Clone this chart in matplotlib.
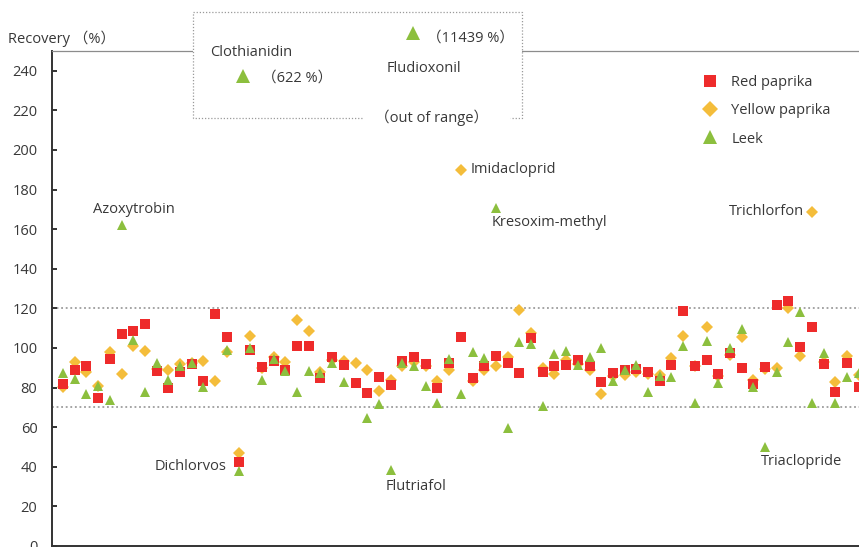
import matplotlib.pyplot as plt
from matplotlib.lines import Line2D
from matplotlib.patches import Rectangle

plt.rcParams['font.family'] = ['Open Sans', 'Noto Sans CJK JP', 'DejaVu Sans']
plt.rcParams['font.size'] = 10.5
plt.rcParams['text.color'] = '#383838'

# recovery (%) per pesticide, in the same compound order for each matrix
red_paprika = [81.7, 88.9, 90.9, 74.9, 94.4, 107.0, 108.6, 112.0, 88.4, 80.0,
               88.0, 91.8, 83.5, 117.2, 105.7, 42.6, 99.0, 90.6, 93.4, 88.9,
               101.0, 101.0, 85.0, 95.3, 91.4, 82.5, 77.1, 85.2, 81.3, 93.6,
               95.6, 91.8, 80.0, 92.6, 105.4, 85.0, 90.9, 96.0, 92.3, 87.5,
               104.9, 88.0, 90.9, 91.4, 93.9, 90.9, 82.7, 87.2, 88.9, 89.4,
               87.7, 83.5, 91.4, 118.7, 90.9, 93.9, 86.9, 97.6, 90.0, 81.7,
               90.6, 121.7, 123.9, 100.7, 110.4, 91.9, 77.9, 92.3, 80.5]
yellow_paprika = [80.5, 93.0, 87.7, 81.0, 98.1, 86.7, 101.2, 98.6, 89.4, 88.9,
                  91.9, 92.5, 93.4, 83.5, 98.1, 46.8, 106.0, 90.0, 95.6, 93.0,
                  114.1, 108.6, 87.7, 94.0, 93.6, 92.6, 88.9, 78.4, 83.8, 90.9,
                  93.0, 91.0, 83.3, 88.9, 189.9, 83.3, 88.9, 90.9, 95.6, 119.2,
                  107.4, 89.7, 86.9, 93.9, 92.0, 89.0, 76.8, 85.6, 86.4, 88.0,
                  87.0, 86.4, 95.1, 106.2, 91.0, 110.8, 86.0, 96.5, 105.7, 83.8,
                  89.4, 89.7, 120.4, 96.0, 168.7, 93.0, 82.7, 96.0, 86.4]
leek = [87.2, 84.2, 76.8, 81.0, 73.7, 162.0, 104.0, 77.9, 92.6, 83.8,
        90.9, 92.3, 80.5, 622.0, 99.0, 38.0, 99.8, 83.8, 94.4, 88.4,
        77.9, 88.4, 87.2, 92.6, 83.0, 11439.0, 64.5, 71.7, 38.4, 92.6,
        90.9, 81.0, 72.1, 94.4, 76.6, 97.8, 94.8, 170.7, 59.6, 103.2,
        101.9, 70.7, 97.0, 98.5, 91.4, 95.6, 99.8, 83.3, 88.9, 91.4,
        77.9, 85.9, 85.5, 101.0, 72.4, 103.5, 82.5, 100.2, 109.4, 80.5,
        50.0, 87.7, 103.2, 118.0, 72.1, 97.6, 72.1, 85.2, 87.2]

# compounds called out by name: (name, index, series, offset in px, alignment)
callouts = [("Azoxytrobin", 5, "leek", (-29, 16), "left"),
            ("Dichlorvos", 15, "red", (-12, -5), "right"),
            ("Flutriafol", 28, "leek", (-5, -17), "left"),
            ("Imidacloprid", 34, "yellow", (10, 0), "left"),
            ("Kresoxim-methyl", 37, "leek", (-4, -15), "left"),
            ("Trichlorfon", 64, "yellow", (-8, 0), "right"),
            ("Triaclopride", 60, "leek", (-4, -15), "left")]

c_red = '#ee2b2b'
c_yellow = '#f4bd3b'
c_green = '#8cbf3e'
W, H = 859, 547

fig = plt.figure(figsize=(W / 100, H / 100), dpi=100)
ax = fig.add_axes([52 / W, (H - 545.9) / H, (870 - 52) / W, (545.9 - 50.9) / H])

x = list(range(len(red_paprika)))
ax.plot(x, yellow_paprika, 'D', color=c_yellow, ms=6.2, mew=0, zorder=3)
ax.plot(x, red_paprika, 's', color=c_red, ms=7.5, mew=0, zorder=4)
ax.plot(x, leek, '^', color=c_green, ms=7.6, mew=0, zorder=5)

# acceptable recovery range 70-120 %
for lim in (70, 120):
    ax.axhline(lim, color='#8c8c8c', lw=1.1, ls=(0, (1.2, 1.8)), zorder=1)

series = {"red": red_paprika, "yellow": yellow_paprika, "leek": leek}
for name, i, s, off, ha in callouts:
    ax.annotate(name, xy=(i, series[s][i]), xytext=off, textcoords='offset pixels',
                ha=ha, va='center')

ax.set_xlim(-0.94, 68.97)
ax.set_ylim(0, 250)
ax.set_yticks(range(0, 241, 20))
ax.set_xticks([])
ax.tick_params(axis='y', direction='in', length=3.6, width=1.4, color='#333333',
               pad=10.5, labelsize=10.5, labelcolor='#383838')
for side in ('left', 'bottom'):
    ax.spines[side].set_color('#333333')
    ax.spines[side].set_linewidth(1.4)
ax.spines['top'].set_color('#8c8c8c')
ax.spines['top'].set_linewidth(0.9)

fig.text(8 / W, 1 - 39 / H, "Recovery （%）", ha='left', va='center')

# legend
handles = [Line2D([], [], ls='none', marker='s', color=c_red, ms=9.3, mew=0),
           Line2D([], [], ls='none', marker='D', color=c_yellow, ms=8.2, mew=0),
           Line2D([], [], ls='none', marker='^', color=c_green, ms=9.8, mew=0)]
ax.legend(handles, ["Red paprika", "Yellow paprika", "Leek"], loc='upper left',
          bbox_to_anchor=(695 / W, 1 - 68 / H), bbox_transform=fig.transFigure,
          frameon=False, borderpad=0, handlelength=1.0, handletextpad=1.0,
          labelspacing=0.9)

# out-of-range box
fig.add_artist(Rectangle((193 / W, 1 - 118 / H), (522 - 193) / W, (118 - 12) / H,
                         transform=fig.transFigure, facecolor='white',
                         edgecolor='none', zorder=3))
fig.add_artist(Line2D(
    [362 / W, 193 / W, 193 / W, 522 / W, 522 / W, 510 / W],
    [1 - 118 / H, 1 - 118 / H, 1 - 12 / H, 1 - 12 / H, 1 - 118 / H, 1 - 118 / H],
    transform=fig.transFigure, color='#9a9a9a', lw=0.9, ls=(0, (1, 1.5)), zorder=4))
for px, py in ((243, 76), (413, 33)):
    fig.add_artist(Line2D([px / W], [1 - py / H], transform=fig.transFigure,
                          marker='^', ms=10, color=c_green, mew=0, ls='none', zorder=5))
fig.text(210 / W, 1 - 53 / H, "Clothianidin", ha='left', va='center', zorder=5)
fig.text(262 / W, 1 - 78 / H, "（622 %）", ha='left', va='center', zorder=5)
fig.text(387 / W, 1 - 68 / H, "Fludioxonil", ha='left', va='center', zorder=5)
fig.text(427 / W, 1 - 38 / H, "（11439 %）", ha='left', va='center', zorder=5)
fig.text(432 / W, 1 - 118 / H, "（out of range）", ha='center', va='center', zorder=5)

fig.savefig("out.png", dpi=100)
